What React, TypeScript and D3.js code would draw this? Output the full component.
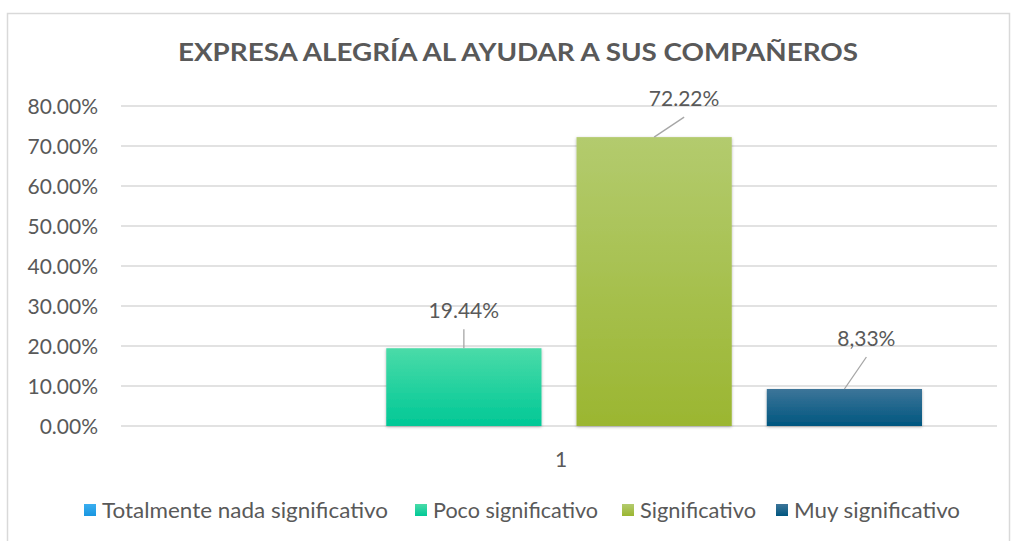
import React from "react";
import * as d3 from "d3";

const title = "EXPRESA ALEGRÍA AL AYUDAR A SUS COMPAÑEROS";
const categories = ["1"];
const seriesNames = ["Totalmente nada significativo", "Poco significativo", "Significativo", "Muy significativo"];
const seriesValues = [0, 19.44, 72.22, 9.25];
const seriesLabels = ["", "19.44%", "72.22%", "8,33%"];
const yTicks = [0, 10, 20, 30, 40, 50, 60, 70, 80];
const colorsTop = ["#3aaef0", "#4adba8", "#b3cb6e", "#3d7599"];
const colorsBottom = ["#1a96e0", "#00c896", "#9bb631", "#00567f"];
const labelOffsets = [[0, 0], [0, -38], [30, -39], [22, -51]];

const W = 1014, H = 541;
const plot = { left: 121, right: 997, top: 106, bottom: 426 };

export default function App() {
  const y = d3.scaleLinear().domain([0, 80]).range([plot.bottom, plot.top]);
  const x0 = d3.scaleBand().domain(categories).range([plot.left, plot.right]).paddingInner(0).paddingOuter(0);
  const x1 = d3.scaleBand().domain(seriesNames).range([75, x0.bandwidth() - 75]).paddingInner(35 / 190).paddingOuter(0);
  const font = "Lato, 'Open Sans', sans-serif";
  const txt = "#595959";
  const legendX = [84, 415, 622, 776];
  const legendW = [286, 165, 116, 166];
  return (
    <svg width={W} height={H} style={{ position: "absolute", left: 0, top: 0 }} fontFamily={font}>
      <defs>
        {seriesNames.map((s, i) => (
          <linearGradient key={s} id={`g${i}`} x1="0" y1="0" x2="0" y2="1">
            <stop offset="0" stopColor={colorsTop[i]} />
            <stop offset="1" stopColor={colorsBottom[i]} />
          </linearGradient>
        ))}
        <filter id="sh" x="-10%" y="-10%" width="120%" height="120%">
          <feDropShadow dx="0" dy="1" stdDeviation="1.5" floodColor="#000" floodOpacity="0.3" />
        </filter>
      </defs>
      <rect x={0} y={0} width={W} height={H} fill="#fff" />
      <rect x={7.5} y={13.5} width={1002} height={540} fill="#fff" stroke="#d9d9d9" strokeWidth={1.5} />
      <text x={518} y={61} textAnchor="middle" fontSize={25} fontWeight="bold" fill={txt} textLength={680} lengthAdjust="spacingAndGlyphs">{title}</text>
      {yTicks.map(t => (
        <g key={t}>
          <line x1={plot.left} x2={plot.right} y1={y(t)} y2={y(t)} stroke="#d9d9d9" strokeWidth={1.5} />
          <text x={98} y={y(t) + 7.5} textAnchor="end" fontSize={21} fill={txt}>{t.toFixed(2)}%</text>
        </g>
      ))}
      {categories.map(c => (
        <g key={c}>
          {seriesNames.map((s, i) => {
            const v = seriesValues[i];
            if (v <= 0) return null;
            const bx = x0(c)! + x1(s)!;
            const bw = x1.bandwidth();
            const cx = bx + bw / 2;
            const top = y(v);
            const [dx, dy] = labelOffsets[i];
            const lx = cx + dx, ly = top + dy;
            return (
              <g key={s}>
                <rect x={bx} y={top} width={bw} height={y(0) - top} fill={`url(#g${i})`} filter="url(#sh)" />
                <line x1={cx} y1={top} x2={lx} y2={ly + 19} stroke="#a6a6a6" strokeWidth={1.3} />
                <text x={lx} y={ly + 8} textAnchor="middle" fontSize={21} fill={txt}>{seriesLabels[i]}</text>
              </g>
            );
          })}
          <text x={x0(c)! + x0.bandwidth() / 2 + 2} y={467} textAnchor="middle" fontSize={21} fill={txt}>{c}</text>
        </g>
      ))}
      {seriesNames.map((s, i) => (
        <g key={s}>
          <rect x={legendX[i]} y={504} width={12} height={12} fill={`url(#g${i})`} />
          <text x={legendX[i] + 18} y={518} fontSize={21} fill={txt} textLength={legendW[i]} lengthAdjust="spacingAndGlyphs">{s}</text>
        </g>
      ))}
    </svg>
  );
}
